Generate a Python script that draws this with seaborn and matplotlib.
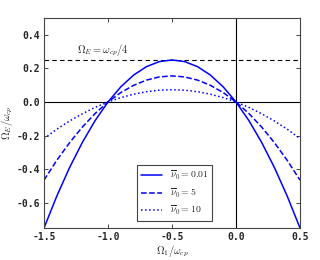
import numpy as np
import pandas as pd
import matplotlib
matplotlib.use("Agg")
import matplotlib.pyplot as plt
import seaborn as sns

omega1 = [-1.5, -1.4, -1.3, -1.2, -1.1, -1.0, -0.9, -0.8, -0.7, -0.6, -0.5,
          -0.4, -0.3, -0.2, -0.1, 0.0, 0.1, 0.2, 0.3, 0.4, 0.5]
omegaE_001 = [-0.75, -0.56, -0.39, -0.24, -0.11, 0.0, 0.09, 0.16, 0.21, 0.24, 0.25,
              0.24, 0.21, 0.16, 0.09, 0.0, -0.11, -0.24, -0.39, -0.56, -0.75]
omegaE_5 = [-0.465, -0.347, -0.242, -0.149, -0.068, 0.0, 0.056, 0.099, 0.130, 0.149, 0.155,
            0.149, 0.130, 0.099, 0.056, 0.0, -0.068, -0.149, -0.242, -0.347, -0.465]
omegaE_10 = [-0.218, -0.162, -0.113, -0.070, -0.032, 0.0, 0.026, 0.046, 0.061, 0.070, 0.073,
             0.070, 0.061, 0.046, 0.026, 0.0, -0.032, -0.070, -0.113, -0.162, -0.218]
labels = [r'$\overline{\nu}_0 = 0.01$', r'$\overline{\nu}_0 = 5$', r'$\overline{\nu}_0 = 10$']
styles = ['-', '--', ':']

sns.set_style("ticks", {"xtick.direction": "in", "ytick.direction": "in"})
plt.rcParams['mathtext.fontset'] = 'cm'

df = pd.DataFrame({"x": omega1 * 3,
                   "y": omegaE_001 + omegaE_5 + omegaE_10,
                   "nu": [labels[0]] * 21 + [labels[1]] * 21 + [labels[2]] * 21})

fig = plt.figure(figsize=(3.2, 2.6), dpi=100)
ax = fig.add_axes([0.1375, 0.123, 0.8, 0.808])

ax.axhline(0, color='black', lw=0.8, zorder=1)
ax.axvline(0, color='black', lw=0.8, zorder=1)
ax.axhline(0.25, color='black', lw=0.8, ls='--', dashes=(4, 3), zorder=1)

for lab, ls in zip(labels, styles):
    sub = df[df.nu == lab]
    sns.lineplot(data=sub, x="x", y="y", ax=ax, color='blue', lw=1.1,
                 linestyle=ls, label=lab, sort=False)

ax.text(-1.24, 0.31, r'$\Omega_E = \omega_{cp}/4$', fontsize=7.5, va='center', ha='left')

ax.set_xlim(-1.5, 0.5)
ax.set_ylim(-0.75, 0.5)
ax.set_xticks([-1.5, -1.0, -0.5, 0.0, 0.5])
ax.set_yticks([-0.6, -0.4, -0.2, 0.0, 0.2, 0.4])
ax.set_xticklabels(['%.1f' % v for v in [-1.5, -1.0, -0.5, 0.0, 0.5]])
ax.set_yticklabels(['%.1f' % v for v in [-0.6, -0.4, -0.2, 0.0, 0.2, 0.4]])
ax.tick_params(top=True, right=True, length=3, width=0.6, labelsize=7, pad=3)
for t in ax.get_xticklabels() + ax.get_yticklabels():
    t.set_family('DejaVu Sans Mono')
    t.set_fontweight('bold')
for s in ax.spines.values():
    s.set_linewidth(0.8)
    s.set_color('#444444')

ax.set_xlabel(r'$\Omega_1/\omega_{cp}$', fontsize=7.5, labelpad=1)
ax.set_ylabel(r'$\Omega_E/\omega_{cp}$', fontsize=7.5, labelpad=1)

leg = ax.legend(loc='lower center', bbox_to_anchor=(0.51, 0.01), fontsize=7,
                fancybox=False, framealpha=1, edgecolor='#444444',
                handlelength=2.2, borderpad=0.4, labelspacing=0.45)
leg.get_frame().set_linewidth(0.8)

fig.savefig("out.png", dpi=100)
